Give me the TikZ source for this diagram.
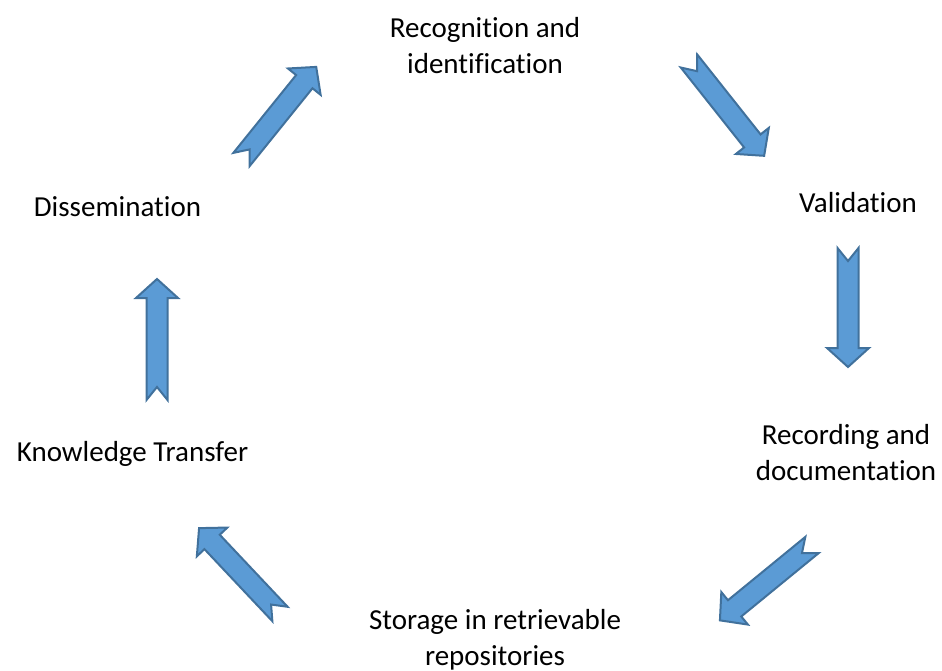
\documentclass[tikz,border=0pt]{standalone}
\usepackage{fontspec}
\setmainfont{Carlito}[Ligatures=NoCommon]
\usetikzlibrary{calc}
\definecolor{arrowfill}{HTML}{5B9BD5}
\definecolor{arrowline}{HTML}{41719C}
\tikzset{
  blockarrow/.style={fill=arrowfill, draw=arrowline, line width=2pt, line join=miter},
  steptext/.style={anchor=base, inner sep=0pt, align=center, font=\fontsize{29}{36}\selectfont}
}
% name, tail x, tail y, canvas angle, length
\newcommand{\notcharrow}[5]{%
  \begin{scope}[shift={(#2,#3)}, rotate=#4]
    \coordinate (#1tail) at (0,0);
    \coordinate (#1tip) at (#5,0);
    \draw[blockarrow] ($(#1tail)+(0,10.5)$) -- ({#5-19},10.5) -- ({#5-19},21) -- (#1tip)
      -- ({#5-19},-21) -- ({#5-19},-10.5) -- ($(#1tail)+(0,-10.5)$) -- (13,0) -- cycle;
  \end{scope}}
\begin{document}
\begin{tikzpicture}[x=1pt, y=-1pt]
  \useasboundingbox (0,0) rectangle (942,671);
  \node[steptext] (rec) at (485,74) {Recognition and\\identification};
  \node[steptext] (val) at (858,212) {Validation};
  \node[steptext] (recd) at (846,480) {Recording and\\documentation};
  \node[steptext] (sto) at (495,665) {Storage in retrievable\\repositories};
  \node[steptext] (kt) at (132.5,461) {Knowledge Transfer};
  \node[steptext] (dis) at (117.5,217) {Dissemination};
  \notcharrow{aone}{241.5}{159.5}{51.1}{119}
  \notcharrow{atwo}{689}{61}{-51.6}{121}
  \notcharrow{athree}{848}{248}{-90}{119}
  \notcharrow{afour}{157}{400}{90}{121}
  \notcharrow{afive}{812}{545}{-140.7}{119}
  \notcharrow{asix}{280}{614}{133.3}{118}
\end{tikzpicture}
\end{document}
